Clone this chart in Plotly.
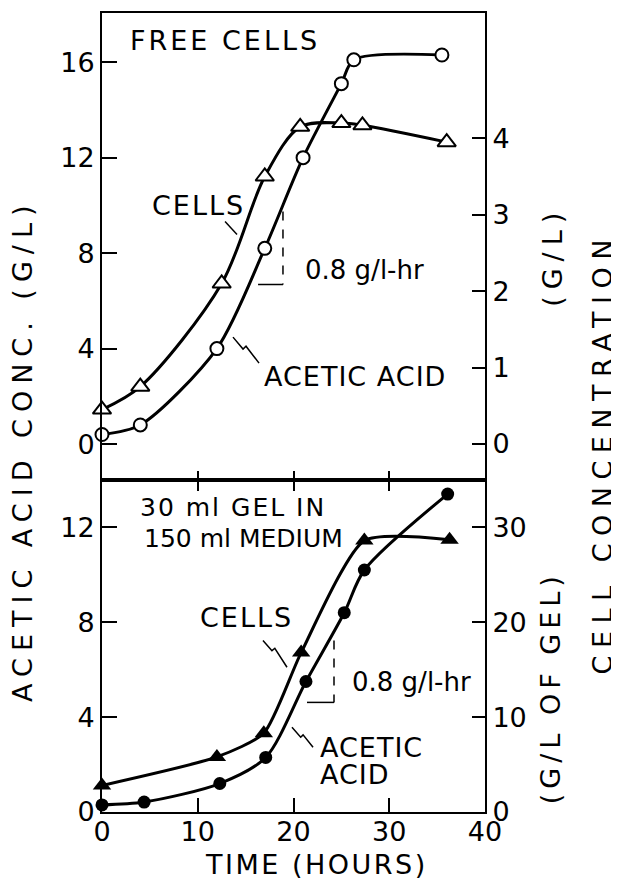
import plotly.graph_objects as go

# ---------------- data ----------------
hours_free_acid = [0, 4, 12, 17, 21, 25, 26.3, 35.5]
acid_free = [0.4, 0.8, 4.0, 8.2, 12.0, 15.1, 16.1, 16.3]          # g/L acetic acid (left, top)
hours_free_cells = [0, 4, 12.5, 17, 20.7, 25, 27.2, 36]
cells_free = [0.45, 0.75, 2.1, 3.5, 4.15, 4.2, 4.17, 3.95]          # g/L cells (right, top)

hours_gel_acid = [0, 4.4, 12.3, 17.1, 21.3, 25.3, 27.4, 36.1]
acid_gel = [0.3, 0.42, 1.2, 2.3, 5.5, 8.4, 10.2, 13.4]              # g/L acetic acid (left, bottom)
hours_gel_cells = [0, 12, 16.9, 20.8, 27.4, 36.3]
cells_gel = [2.8, 5.8, 8.3, 16.8, 28.6, 28.7]                        # g/L of gel (right, bottom)

x_ticks = [0, 10, 20, 30, 40]
top_left_ticks = [0, 4, 8, 12, 16]
top_right_ticks = [0, 1, 2, 3, 4]
bot_left_ticks = [0, 4, 8, 12]
bot_right_ticks = [0, 10, 20, 30]

# ---------------- styling ----------------
FONT = "DejaVu Sans"
BLACK = "black"
split = 0.4157

fig = go.Figure()

def line_style(sm=0.9):
    return dict(color=BLACK, width=3, shape="spline", smoothing=sm)

fig.add_trace(go.Scatter(x=hours_free_acid, y=acid_free, xaxis="x2", yaxis="y3",
                         mode="lines+markers", line=line_style(0.8), cliponaxis=False,
                         marker=dict(symbol="circle", size=13, color="white",
                                     line=dict(color=BLACK, width=2)),
                         name="Acetic acid (free)"))
fig.add_trace(go.Scatter(x=hours_free_cells, y=cells_free, xaxis="x2", yaxis="y4",
                         mode="lines+markers", line=line_style(0.9), cliponaxis=False,
                         marker=dict(symbol="triangle-up", size=16, color="white",
                                     line=dict(color=BLACK, width=2)),
                         name="Cells (free)"))
fig.add_trace(go.Scatter(x=hours_gel_acid, y=acid_gel, xaxis="x", yaxis="y",
                         mode="lines+markers", line=line_style(0.8), cliponaxis=False,
                         marker=dict(symbol="circle", size=13, color=BLACK),
                         name="Acetic acid (gel)"))
fig.add_trace(go.Scatter(x=hours_gel_cells, y=cells_gel, xaxis="x", yaxis="y2",
                         mode="lines+markers", line=line_style(0.6), cliponaxis=False,
                         marker=dict(symbol="triangle-up", size=16, color=BLACK),
                         name="Cells (gel)"))

tickfont = dict(family=FONT, size=27, color=BLACK)
common_y = dict(showgrid=False, zeroline=False, showline=True, linecolor=BLACK,
                linewidth=2, ticks="inside", tickwidth=2, tickcolor=BLACK,
                tickfont=tickfont)

def sp(text, ls):
    return f'<span style="letter-spacing:{ls}px">{text}</span>'

ann_font = dict(family=FONT, size=27, color=BLACK)
small_font = dict(family=FONT, size=25, color=BLACK)
annotations = [
    # top panel
    dict(text=sp("FREE CELLS", 3), x=2.7, y=16.9, xref="x2", yref="y3", xanchor="left"),
    dict(text=sp("CELLS", 2), x=10.1, y=10.0, xref="x2", yref="y3", xanchor="center"),
    dict(text="0.8 g/l-hr", x=21.0, y=7.3, xref="x2", yref="y3", xanchor="left",
         font=dict(family=FONT, size=26, color=BLACK)),
    dict(text=sp("ACETIC ACID", 1), x=16.7, y=2.85, xref="x2", yref="y3", xanchor="left"),
    # bottom panel
    dict(text=sp("30 ml GEL IN", 2), x=3.76, y=12.82, xref="x", yref="y", xanchor="left",
         font=small_font, height=29),
    dict(text="150 ml MEDIUM", x=4.18, y=11.52, xref="x", yref="y", xanchor="left",
         font=small_font, height=29),
    dict(text=sp("CELLS", 2), x=15.04, y=8.2, xref="x", yref="y", xanchor="center"),
    dict(text="0.8 g/l-hr", x=25.9, y=5.47, xref="x", yref="y", xanchor="left",
         font=dict(family=FONT, size=26, color=BLACK)),
    dict(text=sp("ACETIC", 1), x=22.56, y=2.73, xref="x", yref="y", xanchor="left", height=27),
    dict(text=sp("ACID", 1), x=22.56, y=1.56, xref="x", yref="y", xanchor="left", height=27),
    # axis titles
    dict(text=sp("ACETIC ACID CONC. (G/L)", 7), x=-0.206, y=0.452, xref="paper", yref="paper",
         textangle=-90, xanchor="center", yanchor="middle"),
    dict(text=sp("CELL CONCENTRATION", 7.5), x=1.306, y=0.449, xref="paper", yref="paper",
         textangle=-90, xanchor="center", yanchor="middle"),
    dict(text=sp("(G/L)", 7), x=1.178, y=0.695, xref="paper", yref="paper",
         textangle=-90, xanchor="center", yanchor="middle"),
    dict(text=sp("(G/L OF GEL)", 5), x=1.170, y=0.155, xref="paper", yref="paper",
         textangle=-90, xanchor="center", yanchor="middle"),
    dict(text=sp("TIME (HOURS)", 2.5), x=0.559, y=-0.066, xref="paper", yref="paper",
         xanchor="center", yanchor="middle"),
]
for a in annotations:
    a.setdefault("font", ann_font)
    a.setdefault("yanchor", "middle")
    a["showarrow"] = False

thin = dict(color=BLACK, width=1.5)
shapes = [
    # top panel pointers and slope triangle
    dict(type="line", xref="x2", yref="y3", x0=12.85, y0=9.32, x1=14.1, y1=8.78, line=thin),
    dict(type="path", xref="x2", yref="y3",
         path="M13.68,4.48 L14.73,3.98 L15.04,4.10 L16.40,3.39", line=thin),
    dict(type="line", xref="x2", yref="y3", x0=18.9, y0=9.74, x1=18.9, y1=6.69,
         line=dict(color=BLACK, width=1.5, dash="dash")),
    dict(type="line", xref="x2", yref="y3", x0=16.3, y0=6.69, x1=18.9, y1=6.69, line=thin),
    # bottom panel pointers and slope triangle
    dict(type="path", xref="x", yref="y",
         path="M16.81,7.23 L17.75,6.80 L18.05,6.90 L19.32,6.10", line=thin),
    dict(type="path", xref="x", yref="y",
         path="M19.84,3.57 L20.75,3.15 L21.0,3.25 L22.04,2.73", line=thin),
    dict(type="line", xref="x", yref="y", x0=24.23, y0=7.23, x1=24.23, y1=4.62,
         line=dict(color=BLACK, width=1.5, dash="dash")),
    dict(type="line", xref="x", yref="y", x0=21.41, y0=4.62, x1=24.23, y1=4.62, line=thin),
]

# the page body has an 8px default margin, so the figure is sized/margined to compensate
fig.update_layout(
    width=611, height=883,
    margin=dict(l=94, r=134, t=3, b=79),
    paper_bgcolor="white", plot_bgcolor="white",
    showlegend=False,
    font=dict(family=FONT, color=BLACK),
    xaxis=dict(domain=[0, 1], range=[0, 40], anchor="y", tickvals=x_ticks,
               showgrid=False, zeroline=False, showline=True, linecolor=BLACK, linewidth=2,
               mirror=True, ticks="inside", ticklen=14, tickwidth=2, tickcolor=BLACK,
               tickfont=tickfont, ticklabelstandoff=-5),
    xaxis2=dict(domain=[0, 1], range=[0, 40], anchor="y3", matches="x",
                tickvals=[10, 20, 30], showticklabels=False,
                showgrid=False, zeroline=False, showline=True, linecolor=BLACK, linewidth=2,
                mirror=True, ticks="outside", ticklen=9, tickwidth=2, tickcolor=BLACK),
    xaxis3=dict(domain=[0, 1], range=[0, 40], anchor="y3", overlaying="x2",
                tickvals=[10, 20, 30], showticklabels=False, showline=False,
                showgrid=False, zeroline=False, ticks="inside", ticklen=9,
                tickwidth=2, tickcolor=BLACK),
    yaxis=dict(domain=[0, split], range=[0, 14], anchor="x", tickvals=bot_left_ticks,
               ticklen=15, **common_y),
    yaxis2=dict(range=[0, 35], anchor="x", overlaying="y", side="right",
                tickvals=bot_right_ticks, ticklen=13, **common_y),
    yaxis3=dict(domain=[split, 1], range=[-1.5, 18.06], anchor="x2", tickvals=top_left_ticks,
                ticklen=15, **common_y),
    yaxis4=dict(range=[-0.47, 5.64], anchor="x2", overlaying="y3", side="right",
                tickvals=top_right_ticks, ticklen=13, **common_y),
    annotations=annotations,
    shapes=shapes,
)

# dummy trace so xaxis3 is rendered
fig.add_trace(go.Scatter(x=[None], y=[None], xaxis="x3", yaxis="y3", showlegend=False,
                         hoverinfo="skip"))

fig.write_html("out.html")
